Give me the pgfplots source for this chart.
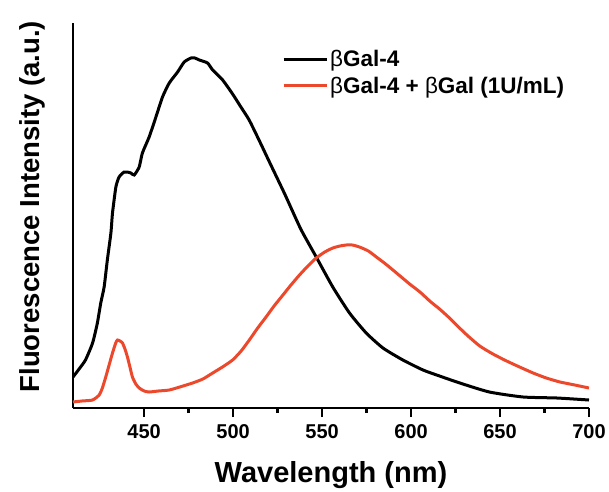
\documentclass[border=0pt]{standalone}
\usepackage{pgfplots}
\pgfplotsset{compat=1.18}
\usepackage{fontspec}
\setmainfont{Liberation Sans}
\usetikzlibrary{calc}
\definecolor{redline}{RGB}{236,72,44}
\begin{document}
\begin{tikzpicture}
\begin{axis}[
  width=516pt, height=385pt, scale only axis,
  xmin=410, xmax=700, ymin=0, ymax=385,
  axis x line=bottom, axis y line=left,
  axis line style={-, line width=2.8pt},
  xtick={450,500,550,600,650,700},
  minor x tick num=1,
  ytick=\empty,
  tick align=outside,
  major tick length=9pt, minor tick length=5pt,
  every tick/.style={line width=2.4pt, black},
  /pgf/number format/assume math mode=true,
  /pgf/number format/1000 sep={},
  xticklabel style={font=\fontsize{20}{24}\selectfont\bfseries, inner sep=0pt, anchor=north, yshift=-7pt},
  xlabel={Wavelength (nm)},
  ylabel={Fluorescence Intensity (a.u.)},
  xlabel style={font=\fontsize{29}{34}\selectfont\bfseries, inner sep=0pt, anchor=north, at={(axis description cs:0.5,0)}, yshift=-53pt},
  ylabel style={font=\fontsize{27.5}{32}\selectfont\bfseries, inner sep=0pt, anchor=south, at={(axis description cs:-0.054,0.523)}, rotate=0},
  legend style={draw=none, fill=none, at={(axis description cs:0.405,0.935)}, anchor=north west, font=\fontsize{22.5}{27}\selectfont\bfseries, row sep=5pt, inner sep=0pt},
  legend cell align=left,
  legend image code/.code={\draw[#1] (0pt,0pt) -- (43pt,0pt);},
  clip=true,
]
\addplot[black, line width=3pt, smooth, tension=0.35] coordinates {
(410,31) (413,38) (417,48) (421,65) (423.7,85) (425.6,105) (427.5,121) (429.3,148)
(431.3,175) (432.2,195) (434.1,221) (435.9,231) (438.7,236) (440.5,236) (442.5,235)
(444.4,233) (447.2,241) (449,255) (452.8,271) (456.6,291) (460.3,311) (464.1,325)
(468.8,336) (472.5,346) (476.3,350) (478.5,350) (481,348) (485.6,345) (488.5,338)
(494.1,328) (499.7,314) (504,302) (509,288) (514.8,267) (520.4,246) (529,214) (538,179)
(546.7,151) (556,121) (565.4,95) (574.8,75) (584.2,60) (595.4,48) (606.7,38)
(616,32) (627.4,25) (644,16) (663,11) (682,10) (700,8)
};
\addlegendentry{{\mdseries β}Gal-4}
\addplot[redline, line width=3pt, smooth, tension=0.35] coordinates {
(410,6) (415,7) (421,8) (424.7,13) (426.5,20) (428.4,31) (430.3,43) (432.2,55)
(434,65) (435,68) (436.4,67) (437.8,65) (439.2,59) (440.6,51) (442,41) (443.4,31)
(445.3,24) (447.2,20) (450,17) (452.8,16) (458,17) (464.1,18) (470,21) (477.2,25)
(483,29) (488.5,35) (494,41) (499.7,48) (504.5,57) (509.1,68) (513.8,80) (518.5,91)
(523,102) (528,113) (532.5,123) (537.3,133) (542,142) (546.7,150) (551.5,156)
(556,160) (560,162) (563.6,163) (567,163) (571,161) (576,157) (580.5,151) (585,145)
(589.8,138) (594.5,131) (599.2,124) (605,116) (610.5,107) (616,99) (621,91)
(625.5,83) (632,72) (638.6,62) (646,54) (653.7,47) (661,41) (668.6,35) (676,30)
(683.7,26) (692,23) (700,20)
};
\addlegendentry{{\mdseries β}Gal-4 + {\mdseries β}Gal (1U/mL)}
\end{axis}
\pgfresetboundingbox
\path[use as bounding box] ($(current axis.south west)+(-73pt,-83pt)$) rectangle ($(current axis.north east)+(20pt,23pt)$);
\end{tikzpicture}
\end{document}
